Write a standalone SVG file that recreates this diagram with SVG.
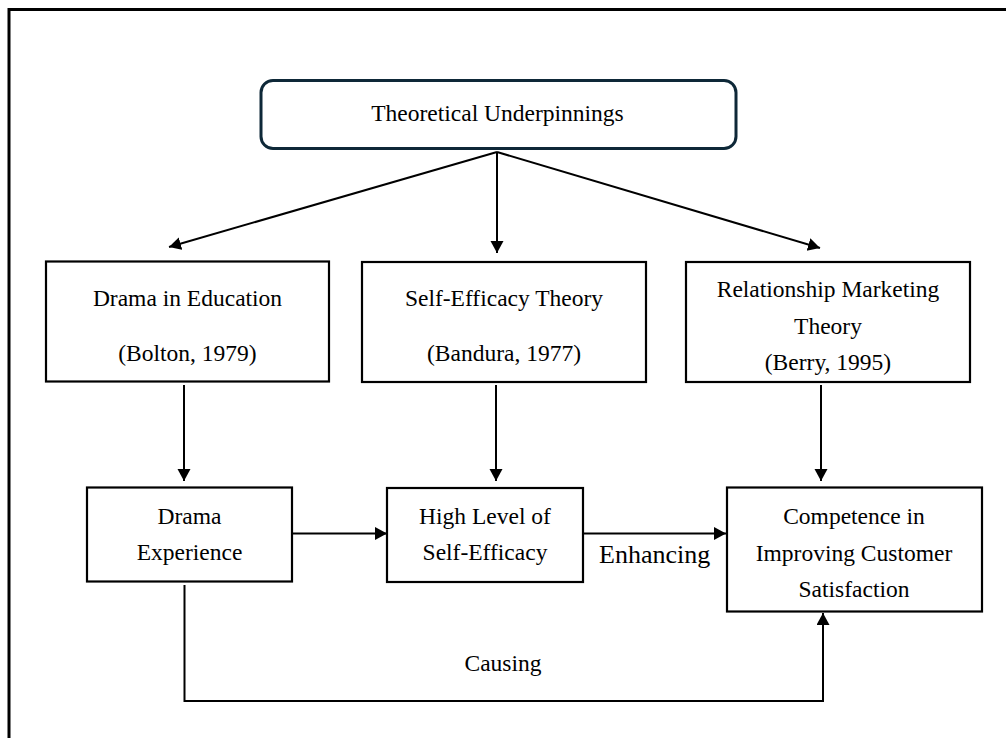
<svg xmlns="http://www.w3.org/2000/svg" width="1006" height="738" viewBox="0 0 1006 738">
  <style>
    text { font-family: 'Liberation Serif', 'DejaVu Serif', serif; font-size: 23.5px; fill: #000; text-anchor: middle; }
    .box { fill: #fff; stroke: #000; stroke-width: 2.2; }
    .root { fill: #fff; stroke: #0e2838; stroke-width: 3; }
    .edge { fill: none; stroke: #000; stroke-width: 2; }
  </style>
  <defs>
    <marker id="arrow" markerUnits="userSpaceOnUse" markerWidth="13" markerHeight="14" refX="12" refY="6.5" orient="auto">
      <path d="M0,0 L12,6.5 L0,13 z" fill="#000"/>
    </marker>
  </defs>

  <rect x="0" y="0" width="1006" height="738" fill="#fff"/>
  <!-- outer frame, running off the right and bottom edges -->
  <path d="M9,740 V9.5 H1010" fill="none" stroke="#000" stroke-width="3"/>

  <g font-family="Liberation Serif, serif">
  <g id="connectors">
    <line class="edge" x1="497" y1="152" x2="169" y2="247" marker-end="url(#arrow)"/>
    <line class="edge" x1="497" y1="152" x2="497" y2="253" marker-end="url(#arrow)"/>
    <line class="edge" x1="497" y1="152" x2="820" y2="248" marker-end="url(#arrow)"/>
    <line class="edge" x1="184" y1="385" x2="184" y2="481" marker-end="url(#arrow)"/>
    <line class="edge" x1="496" y1="385" x2="496" y2="481" marker-end="url(#arrow)"/>
    <line class="edge" x1="821" y1="385" x2="821" y2="481" marker-end="url(#arrow)"/>
    <line class="edge" x1="292" y1="533.5" x2="387" y2="533.5" marker-end="url(#arrow)"/>
    <line class="edge" x1="583" y1="533.5" x2="726" y2="533.5" marker-end="url(#arrow)"/>
    <polyline class="edge" points="184.5,585 184.5,701 823,701 823,613" marker-end="url(#arrow)"/>
    <text x="599" y="563" style="font-size:26px;text-anchor:start">Enhancing</text>
    <text x="503" y="671">Causing</text>
  </g>

  <g id="theoretical-underpinnings">
    <rect class="root" x="261" y="80.5" width="475" height="68" rx="12" ry="12"/>
    <text x="497.5" y="121">Theoretical Underpinnings</text>
  </g>

  <g id="drama-in-education">
    <rect class="box" x="46" y="261.5" width="283" height="120"/>
    <text x="187.5" y="306">Drama in Education</text>
    <text x="187.5" y="361">(Bolton, 1979)</text>
  </g>

  <g id="self-efficacy-theory">
    <rect class="box" x="362" y="262" width="284" height="120"/>
    <text x="504" y="306">Self-Efficacy Theory</text>
    <text x="504" y="361">(Bandura, 1977)</text>
  </g>

  <g id="relationship-marketing-theory">
    <rect class="box" x="686" y="262" width="284" height="120"/>
    <text x="828" y="297">Relationship Marketing</text>
    <text x="828" y="334">Theory</text>
    <text x="828" y="370">(Berry, 1995)</text>
  </g>

  <g id="drama-experience">
    <rect class="box" x="87" y="487.5" width="205" height="94"/>
    <text x="189.5" y="524">Drama</text>
    <text x="189.5" y="560">Experience</text>
  </g>

  <g id="high-self-efficacy">
    <rect class="box" x="387" y="488" width="196" height="94"/>
    <text x="485" y="524">High Level of</text>
    <text x="485" y="560">Self-Efficacy</text>
  </g>

  <g id="customer-satisfaction-competence">
    <rect class="box" x="727" y="487.5" width="255" height="124"/>
    <text x="854" y="524">Competence in</text>
    <text x="854" y="561">Improving Customer</text>
    <text x="854" y="597">Satisfaction</text>
  </g>
  </g>
</svg>
